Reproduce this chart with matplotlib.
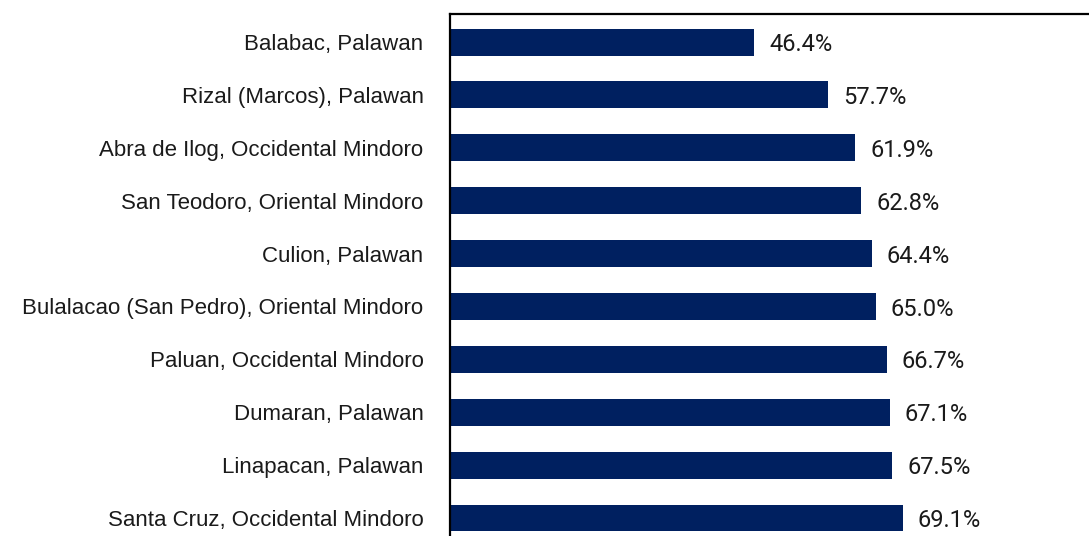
import matplotlib
matplotlib.use("Agg")
import matplotlib.pyplot as plt

places = [
    "Balabac, Palawan",
    "Rizal (Marcos), Palawan",
    "Abra de Ilog, Occidental Mindoro",
    "San Teodoro, Oriental Mindoro",
    "Culion, Palawan",
    "Bulalacao (San Pedro), Oriental Mindoro",
    "Paluan, Occidental Mindoro",
    "Dumaran, Palawan",
    "Linapacan, Palawan",
    "Santa Cruz, Occidental Mindoro",
]
shares = [46.4, 57.7, 61.9, 62.8, 64.4, 65.0, 66.7, 67.1, 67.5, 69.1]

fig = plt.figure(figsize=(10.89, 5.36), dpi=100)
# the source image is cropped: the axes run past the right and bottom edges
ax = fig.add_axes([0.4132, -0.0187, 0.6015, 0.9925])

ypos = range(len(places))
ax.barh(ypos, shares, height=0.51, color="#002060")

for y, v in zip(ypos, shares):
    ax.text(v + 2.3, y + 0.05, f"{v:.1f}%", va="center", ha="left",
            fontsize=17, family="Roboto", color="#1a1a1a")

ax.set_yticks(list(ypos))
ax.set_yticklabels(places, fontsize=16, family="Liberation Sans", color="#1a1a1a")
ax.tick_params(axis="y", length=0, pad=19)
ax.set_xticks([])
ax.set_xlim(0, 100)
ax.set_ylim(9.53, -0.53)

for side in ["right", "bottom"]:
    ax.spines[side].set_visible(False)
for side in ["left", "top"]:
    ax.spines[side].set_linewidth(1.6)
    ax.spines[side].set_color("black")

fig.savefig("out.png", dpi=100)
